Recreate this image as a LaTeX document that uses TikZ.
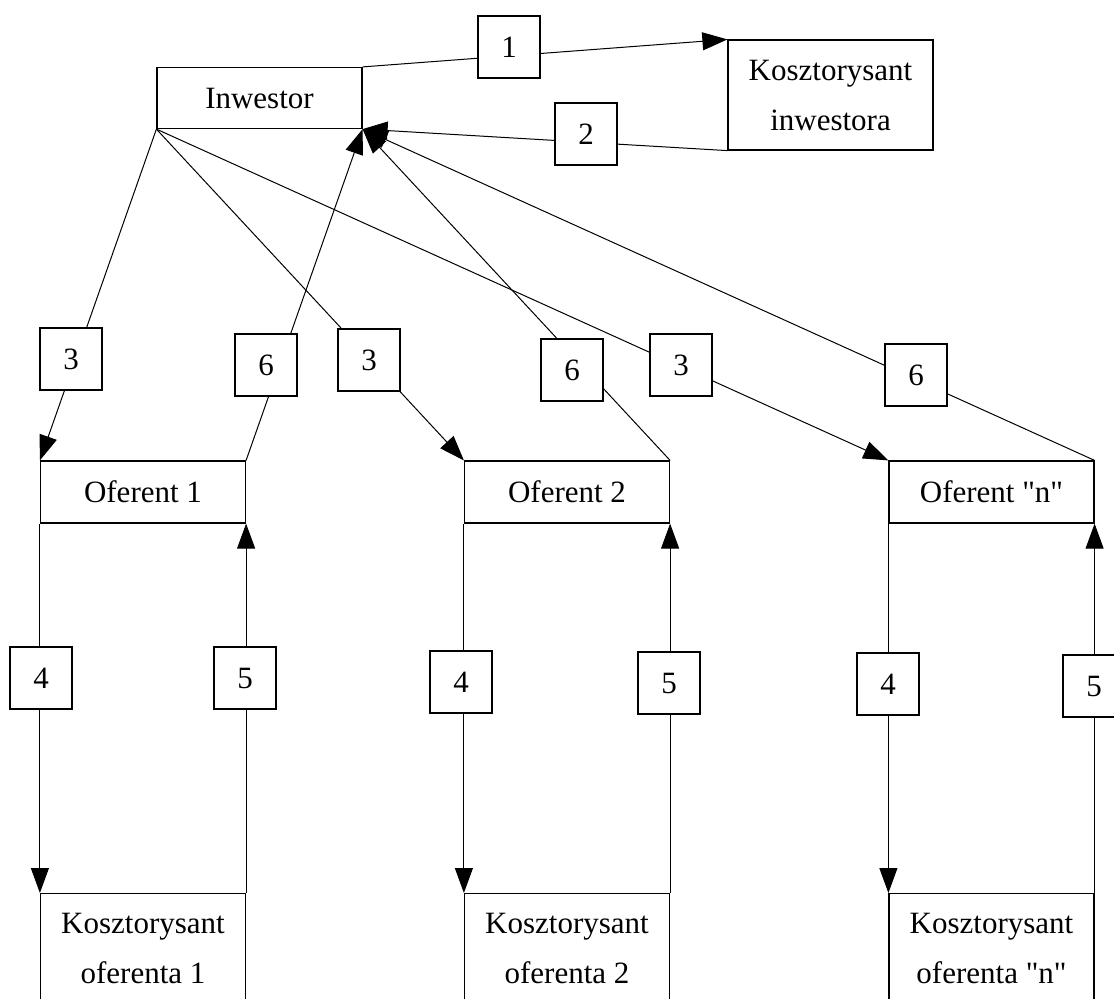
\documentclass[tikz,border=0pt]{standalone}
\usepackage{fontspec}
\setmainfont{Liberation Serif}[Ligatures=TeXOff]
\usetikzlibrary{arrows.meta}
\tikzset{
  box/.style={draw, line width=0.6pt, minimum width=102.5pt, inner sep=0pt, align=center, font=\fontsize{15.5}{25}\selectfont},
  nr/.style={draw, fill=white, line width=0.6pt, minimum size=31pt, inner sep=0pt, font=\fontsize{15.5}{18}\selectfont},
  link/.style={line width=0.5pt, -{Triangle[length=12.5pt,width=9pt]}}
}
\begin{document}
\begin{tikzpicture}[x=0.5pt,y=-0.5pt]
\useasboundingbox (0,0) rectangle (1114,998);
\clip (0,0) rectangle (1114,998);
\node[box, minimum height=30.5pt] (inw) at (259.5,98) {Inwestor};
\node[box, minimum height=55pt] (kinw) at (830.5,95) {Kosztorysant\\inwestora};
\draw[link] (inw.north east) -- (kinw.north west);
\draw[link] (kinw.south west) -- (inw.south east);
% kolumny oferentow
\foreach \c/\x/\t in {1/143/1, 2/567/2, n/991.5/"n"} {
  \node[box, minimum height=31pt] (of\c) at (\x,492) {Oferent \t};
  \node[box, anchor=north, inner ysep=9.7pt] (kof\c) at (\x,893) {Kosztorysant\\oferenta \t};
  \draw[link] (inw.south west) -- (of\c.north west);
  \draw[link] (of\c.north east) -- (inw.south east);
  \draw[link] (of\c.south west) -- (kof\c.north west);
  \draw[link] (kof\c.north east) -- (of\c.south east);
}
\node[nr] (n1) at (509,47) {1};
\node[nr] (n2) at (586,134) {2};
\node[nr] (n3a) at (71,359) {3};
\node[nr] (n3b) at (369,360) {3};
\node[nr] (n3c) at (681,365) {3};
\node[nr] (n6a) at (266,365) {6};
\node[nr] (n6b) at (572,370) {6};
\node[nr] (n6c) at (916,375) {6};
\node[nr] (n4a) at (41,678) {4};
\node[nr] (n4b) at (461,682) {4};
\node[nr] (n4c) at (888,684) {4};
\node[nr] (n5a) at (245,678) {5};
\node[nr] (n5b) at (669,683) {5};
\node[nr] (n5c) at (1094,686) {5};
\end{tikzpicture}
\end{document}
